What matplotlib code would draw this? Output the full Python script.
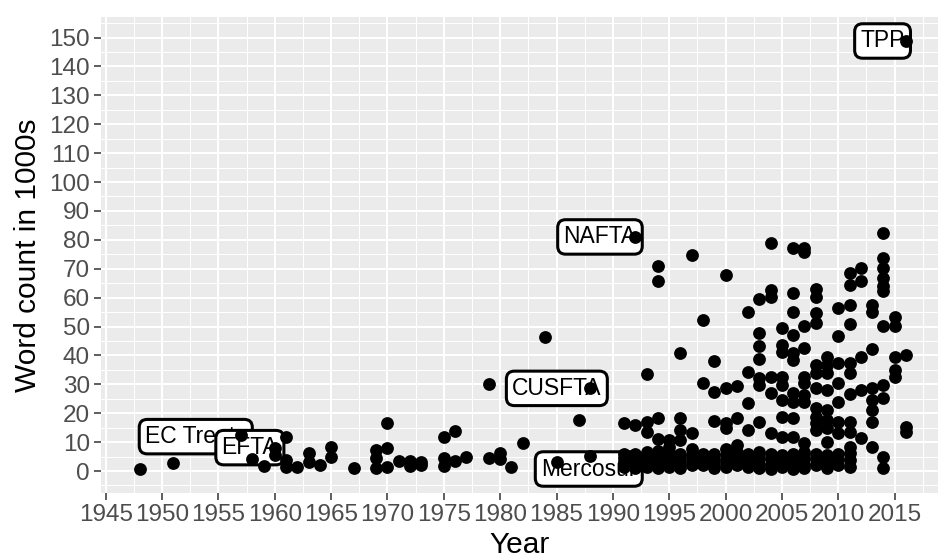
import matplotlib
matplotlib.use("Agg")
import matplotlib.pyplot as plt
from matplotlib.ticker import MultipleLocator

plt.rcParams["font.family"] = ["Liberation Sans", "DejaVu Sans"]

# ── 1. Data: trade agreements, word count in 1000s by year ───────
year = [
    1948, 1951, 1957, 1958, 1959, 1960, 1960, 1961, 1961, 1961, 1962,
    1963, 1963, 1964, 1965, 1965, 1967, 1969, 1969, 1969, 1970, 1970, 1970,
    1971, 1972, 1972, 1973, 1973, 1975, 1975, 1975, 1976, 1976, 1977,
    1979, 1979, 1980, 1980, 1981, 1982, 1984, 1985, 1987, 1988, 1988,
    1991, 1991, 1991, 1991, 1991, 1991,
    1992, 1992, 1992, 1992, 1992, 1992,
    1993, 1993, 1993, 1993, 1993, 1993, 1993,
    1994, 1994, 1994, 1994, 1994, 1994, 1994, 1994,
    1995, 1995, 1995, 1995, 1995, 1995,
    1996, 1996, 1996, 1996, 1996, 1996, 1996, 1996,
    1997, 1997, 1997, 1997, 1997, 1997,
    1998, 1998, 1998, 1998, 1998,
    1999, 1999, 1999, 1999, 1999, 1999, 1999,
    2000, 2000, 2000, 2000, 2000, 2000, 2000, 2000,
    2001, 2001, 2001, 2001, 2001, 2001,
    2002, 2002, 2002, 2002, 2002, 2002, 2002,
    2003, 2003, 2003, 2003, 2003, 2003, 2003, 2003, 2003, 2003, 2003,
    2004, 2004, 2004, 2004, 2004, 2004, 2004, 2004, 2004, 2004,
    2005, 2005, 2005, 2005, 2005, 2005, 2005, 2005, 2005, 2005, 2005,
    2006, 2006, 2006, 2006, 2006, 2006, 2006, 2006, 2006, 2006, 2006, 2006, 2006, 2006,
    2007, 2007, 2007, 2007, 2007, 2007, 2007, 2007, 2007, 2007, 2007, 2007, 2007,
    2008, 2008, 2008, 2008, 2008, 2008, 2008, 2008, 2008, 2008, 2008, 2008, 2008, 2008,
    2009, 2009, 2009, 2009, 2009, 2009, 2009, 2009, 2009, 2009, 2009,
    2010, 2010, 2010, 2010, 2010, 2010, 2010, 2010, 2010, 2010,
    2011, 2011, 2011, 2011, 2011, 2011, 2011, 2011, 2011, 2011, 2011, 2011, 2011,
    2012, 2012, 2012, 2012, 2012,
    2013, 2013, 2013, 2013, 2013, 2013, 2013, 2013,
    2014, 2014, 2014, 2014, 2014, 2014, 2014, 2014, 2014, 2014, 2014,
    2015, 2015, 2015, 2015, 2015,
    2016, 2016, 2016, 2016,
]
words = [
    0.7, 2.9, 12.5, 4.0, 1.8, 7.8, 5.5, 11.9, 3.8, 1.3, 1.5,
    6.3, 3.2, 2.1, 8.4, 5.0, 0.9, 7.3, 4.4, 1.0, 16.7, 8.0, 1.5,
    3.5, 3.5, 1.8, 3.2, 2.0, 11.9, 4.4, 1.8, 13.8, 3.6, 5.0,
    30.0, 4.4, 6.1, 4.2, 1.5, 9.8, 46.5, 3.2, 17.6, 28.6, 5.2,
    16.5, 6.0, 4.5, 3.0, 1.5, 2.5,
    81.1, 16.0, 6.0, 4.0, 2.5, 1.0,
    33.6, 17.0, 13.6, 6.5, 4.5, 3.0, 1.5,
    70.9, 65.7, 18.4, 11.0, 7.0, 5.0, 3.0, 1.2,
    10.7, 8.4, 6.5, 4.5, 3.0, 1.5,
    41.0, 18.4, 14.2, 10.7, 6.0, 4.5, 2.5, 1.0,
    74.7, 13.3, 7.6, 5.5, 3.5, 2.0,
    52.2, 30.3, 6.0, 4.0, 2.0,
    38.2, 27.2, 17.4, 6.0, 4.0, 2.5, 1.0,
    68.0, 28.8, 16.5, 15.0, 7.6, 5.5, 3.5, 1.5,
    29.4, 18.2, 9.0, 6.5, 4.0, 2.0,
    55.1, 34.2, 23.6, 14.2, 6.0, 3.5, 1.5,
    59.4, 47.6, 43.2, 38.8, 32.1, 29.8, 17.0, 6.5, 4.5, 2.5, 1.0,
    78.8, 62.6, 60.3, 32.6, 26.9, 13.0, 6.0, 4.0, 2.0, 0.8,
    49.6, 43.6, 41.3, 32.6, 29.8, 24.6, 18.8, 11.9, 5.5, 3.5, 1.5,
    77.3, 61.5, 55.1, 47.1, 40.7, 38.4, 26.9, 24.0, 18.2, 11.9, 6.0, 4.0, 2.0, 0.8,
    77.0, 75.8, 50.2, 42.5, 32.6, 30.3, 26.3, 24.0, 9.6, 6.5, 4.5, 2.5, 1.0,
    62.9, 60.3, 54.8, 51.1, 36.7, 33.8, 28.6, 21.7, 18.8, 16.5, 14.2, 6.0, 4.0, 2.0,
    39.6, 36.6, 33.8, 28.0, 21.1, 17.6, 14.8, 10.1, 5.5, 3.0, 0.9,
    56.5, 46.8, 37.3, 30.3, 24.0, 17.1, 13.0, 6.0, 4.0, 2.1,
    68.4, 64.5, 57.4, 50.8, 37.5, 33.8, 26.6, 17.1, 13.6, 8.4, 6.1, 3.8, 1.5,
    70.3, 65.8, 39.6, 28.0, 11.3,
    57.4, 55.1, 42.1, 28.6, 24.6, 21.1, 17.1, 8.4,
    82.5, 73.6, 70.1, 66.7, 63.9, 62.4, 50.2, 29.8, 25.2, 5.0, 0.9,
    53.4, 50.2, 39.6, 34.9, 32.6,
    148.8, 40.1, 15.3, 13.6,
]

# labelled agreements (x = right edge of label text)
label_names = ["TPP", "NAFTA", "CUSFTA", "Mercosur", "EC Treaty", "EFTA"]
label_x = [2015.9, 1992.1, 1989.0, 1992.1, 1957.5, 1960.3]
label_y = [148.8, 81.0, 28.6, 0.7, 11.9, 8.1]

x_ticks = list(range(1945, 2016, 5))
y_ticks = list(range(0, 151, 10))

# ── 2. Figure / panel ─────────────────────────────────────────────
fig = plt.figure(figsize=(9.38, 5.58), dpi=100)
ax = fig.add_axes([101 / 938, 65.3 / 558, 837 / 938, 475.7 / 558])
ax.set_facecolor("#EBEBEB")
for s in ax.spines.values():
    s.set_visible(False)

ax.set_xlim(1944.58, 2018.85)
ax.set_ylim(-7.5, 157.1)

ax.set_xticks(x_ticks)
ax.set_yticks(y_ticks)
ax.xaxis.set_minor_locator(MultipleLocator(2.5))
ax.yaxis.set_minor_locator(MultipleLocator(5))
ax.grid(which="major", color="white", linewidth=1.5)
ax.grid(which="minor", color="white", linewidth=0.75)
ax.set_axisbelow(True)

ax.tick_params(which="major", length=5, width=1.1, color="#333333",
               labelcolor="#4D4D4D", labelsize=17.5, pad=3)
ax.tick_params(which="minor", length=0)

ax.set_xlabel("Year", fontsize=21.5, labelpad=4)
ax.set_ylabel("Word count in 1000s", fontsize=21.5, labelpad=5)

# ── 3. Labels, then points on top ─────────────────────────────────
for name, lx, ly in zip(label_names, label_x, label_y):
    ax.text(lx, ly, name, ha="right", va="center", fontsize=16.5, zorder=2,
            bbox=dict(boxstyle="round,pad=0.25,rounding_size=0.35",
                      fc="white", ec="black", lw=2.2))

ax.scatter(year, words, s=85, color="black", linewidths=0, zorder=3)

plt.savefig("out.png", dpi=100)
